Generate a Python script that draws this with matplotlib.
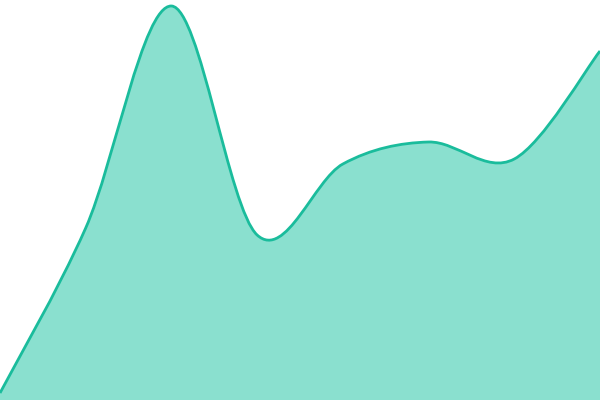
import numpy as np
import matplotlib
matplotlib.use("Agg")
import matplotlib.pyplot as plt
from matplotlib.path import Path
from matplotlib.patches import PathPatch

# data points (evenly spaced along x)
X_VALUES = [0, 1, 2, 3, 4, 5, 6, 7]
Y_VALUES = [7, 172, 394, 165, 236, 258, 241, 349]

LINE_COLOUR = "#1ABC9C"
FILL_COLOUR = "#8AE0CF"


def cardinal_path(xs, ys):
    # catmull-rom style bezier segments through the points
    pts = np.column_stack([xs, ys]).astype(float)
    ext = np.vstack([pts[0], pts, pts[-1]])
    verts = [tuple(pts[0])]
    codes = [Path.MOVETO]
    for i in range(1, len(ext) - 2):
        p0, p1, p2, p3 = ext[i - 1], ext[i], ext[i + 1], ext[i + 2]
        c1 = p1 + (p2 - p0) / 6.0
        c2 = p2 - (p3 - p1) / 6.0
        verts += [tuple(c1), tuple(c2), tuple(p2)]
        codes += [Path.CURVE4] * 3
    return verts, codes


fig = plt.figure(figsize=(6, 4), dpi=100)
ax = fig.add_axes([0, 0, 1, 1])

verts, codes = cardinal_path(X_VALUES, Y_VALUES)

# filled area
area_verts = verts + [(X_VALUES[-1], 0), (X_VALUES[0], 0), verts[0]]
area_codes = codes + [Path.LINETO, Path.LINETO, Path.CLOSEPOLY]
ax.add_patch(PathPatch(Path(area_verts, area_codes), facecolor=FILL_COLOUR,
                       edgecolor="none"))

# outline
ax.add_patch(PathPatch(Path(verts, codes), facecolor="none",
                       edgecolor=LINE_COLOUR, linewidth=2.0))

ax.set_xlim(X_VALUES[0], X_VALUES[-1])
ax.set_ylim(0, 400)
ax.axis("off")

fig.savefig("out.png", dpi=100)
